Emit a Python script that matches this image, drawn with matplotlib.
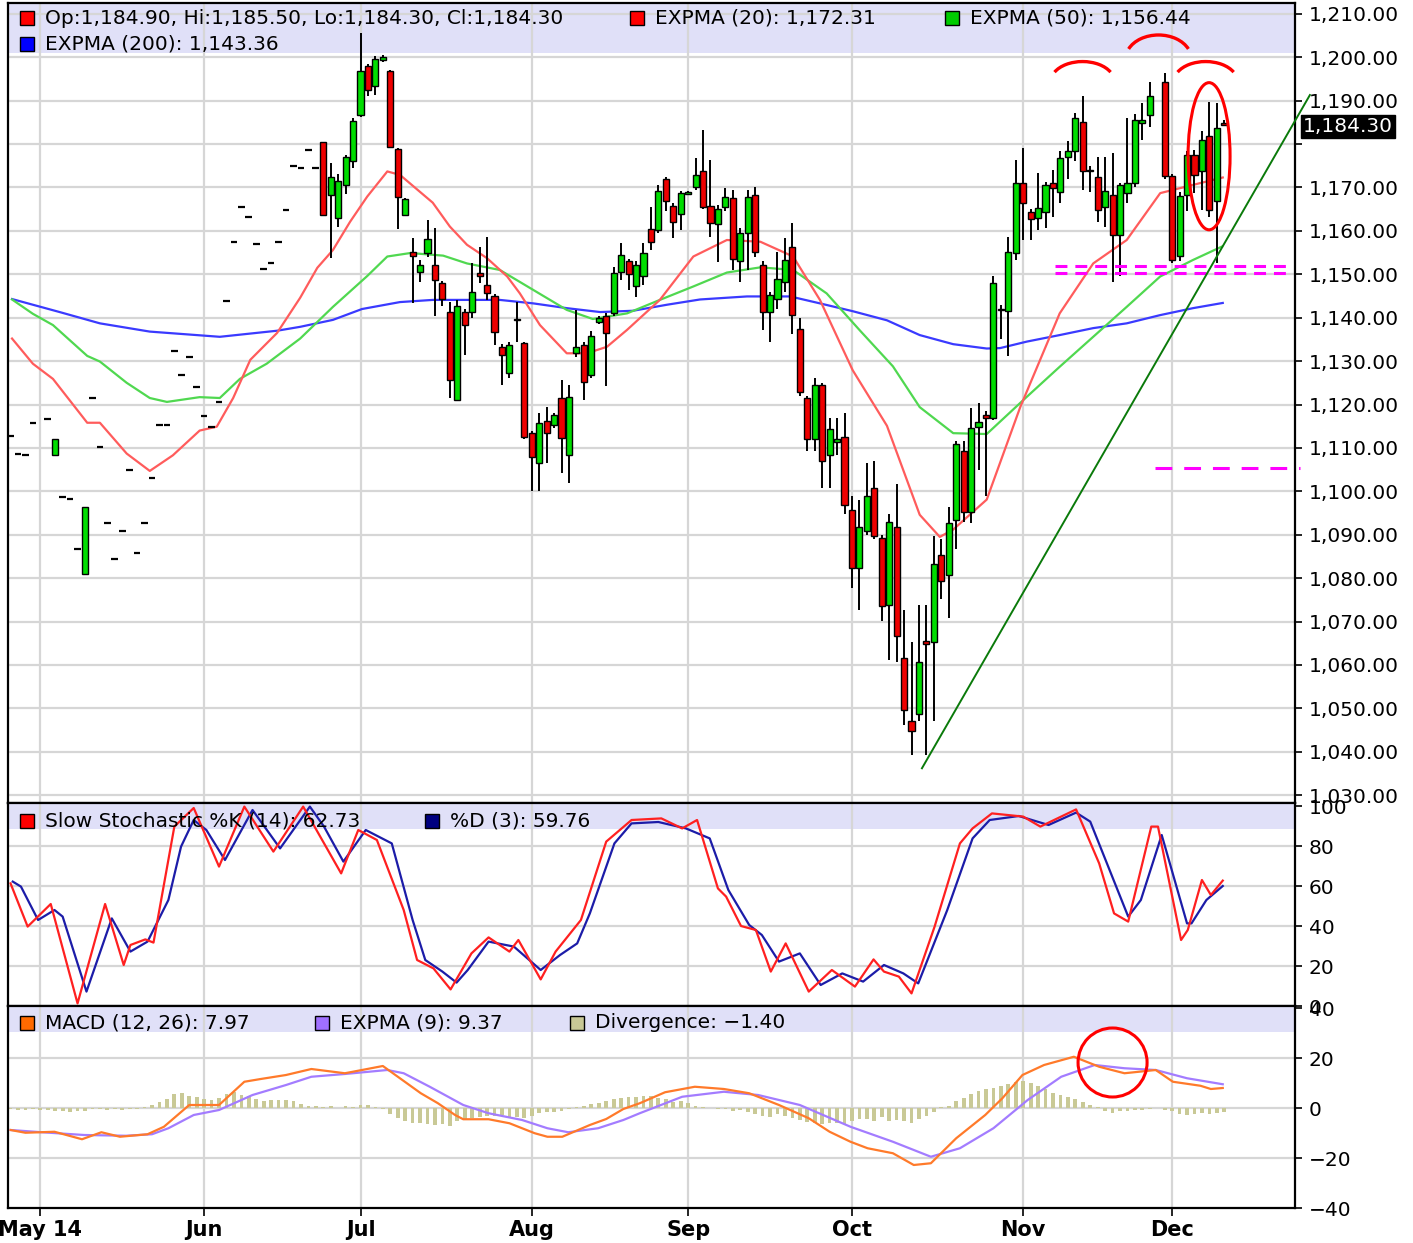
import numpy as np
import matplotlib
matplotlib.use("Agg")
import matplotlib.pyplot as plt
from matplotlib.patches import Rectangle, Ellipse, Arc

"""
Data read off the chart (weekday calendar, holidays kept as slots)
"""
base_day = '2014-05-01'
first_day = '2014-04-25'

nan = np.nan
# daily OHLC from first_day; flat values = the odd dash-only days in May/June
opens = [1112.7, 1108.7, 1108.4, 1115.8, nan, 1116.7, 1108.3, 1098.8, 1098.2, 1086.7,
         1081.0, 1121.4, 1110.1, 1092.7, 1084.3, 1090.8, 1104.8, 1085.8, 1092.7, 1103.0,
         1115.3, 1115.3, 1132.4, 1126.8, 1131.0, 1124.0, 1117.3, 1114.9, 1120.5, 1143.8,
         1157.4, 1165.6, 1163.2, 1157.0, 1151.2, 1152.6, 1157.4, 1164.7, 1174.9, 1174.4,
         1178.6, 1174.4,
         1180.4, 1168.3, 1162.9, 1170.6, 1176.0, 1186.7, 1197.9, 1193.4, 1199.4, 1196.9,
         1178.8, 1163.7, 1155.2, 1150.6, 1155.0, 1152.2, 1147.9, 1141.4, 1121.1, 1141.4,
         1141.4, 1150.2, 1147.6, 1144.9, 1133.3, 1127.2, 1139.8, 1134.1, 1113.4, 1106.5,
         1116.1, 1115.3, 1121.5, 1108.4, 1131.8, 1133.7, 1126.8, 1139.1, 1140.3, 1141.0,
         1150.6, 1153.0, 1147.2, 1149.5, 1160.4, 1160.2, 1171.9, 1165.7, 1163.9, 1168.5,
         1170.2, 1173.9, 1165.7, 1161.5, 1165.4, 1167.5, 1153.0, 1159.5, 1168.3, 1152.2,
         1141.4, 1144.4, 1148.3, 1156.4, 1137.3, 1121.5, 1112.1, 1124.5, 1108.3, 1111.3,
         1112.5, 1095.6, 1082.4, 1090.9, 1100.7, 1089.2, 1073.9, 1091.7, 1061.5, 1047.0,
         1048.7, 1065.6, 1065.4, 1085.4, 1080.7, 1093.4, 1109.2, 1095.2, 1114.9, 1117.7,
         1117.0, 1142.0, 1141.5, 1154.9, 1171.0, 1164.3, 1162.9, 1164.4, 1171.0, 1169.0,
         1177.0, 1178.3, 1185.2, 1174.1, 1172.5, 1165.6, 1168.3, 1159.1, 1168.7, 1171.0,
         1184.8, 1186.8, nan, 1194.2, 1172.7, 1154.1, 1168.3, 1177.5, 1173.7, 1181.8,
         1166.8, 1184.9]
highs = [1112.7, 1108.7, 1108.4, 1115.8, nan, 1116.7, 1112.0, 1098.8, 1098.2, 1086.7,
         1096.4, 1121.4, 1110.1, 1092.7, 1084.3, 1090.8, 1104.8, 1085.8, 1092.7, 1103.0,
         1115.3, 1115.3, 1132.4, 1126.8, 1131.0, 1124.0, 1117.3, 1114.9, 1120.5, 1143.8,
         1157.4, 1165.6, 1163.2, 1157.0, 1151.2, 1152.6, 1157.4, 1164.7, 1174.9, 1174.4,
         1178.6, 1174.4,
         1180.4, 1175.6, 1173.0, 1177.5, 1186.0, 1205.5, 1198.5, 1200.3, 1200.5, 1197.0,
         1179.0, 1167.5, 1158.3, 1153.3, 1162.5, 1160.6, 1148.5, 1143.7, 1144.1, 1142.0,
         1152.5, 1156.4, 1158.7, 1145.5, 1134.0, 1134.5, 1143.7, 1134.5, 1114.0, 1118.0,
         1119.5, 1118.0, 1125.7, 1124.5, 1141.8, 1134.5, 1137.0, 1140.5, 1141.0, 1151.7,
         1157.2, 1153.5, 1153.0, 1157.2, 1165.4, 1170.6, 1172.5, 1166.5, 1169.3, 1169.2,
         1176.9, 1183.2, 1176.4, 1166.0, 1169.8, 1169.4, 1160.6, 1169.4, 1170.1, 1153.0,
         1146.0, 1155.2, 1158.3, 1161.9, 1139.9, 1122.0, 1126.2, 1125.0, 1116.9, 1116.9,
         1118.0, 1099.0, 1098.1, 1106.6, 1107.1, 1090.0, 1094.7, 1101.6, 1072.6, 1065.4,
         1073.9, 1073.9, 1089.6, 1089.0, 1096.4, 1111.7, 1111.7, 1119.3, 1120.4, 1118.5,
         1149.5, 1143.0, 1158.6, 1176.4, 1179.1, 1165.0, 1173.3, 1171.2, 1174.0, 1178.3,
         1180.6, 1187.1, 1191.0, 1175.0, 1177.1, 1177.0, 1177.9, 1171.0, 1186.0, 1187.0,
         1189.5, 1194.2, nan, 1196.4, 1173.0, 1169.0, 1178.3, 1178.6, 1183.0, 1189.8,
         1189.4, 1185.5]
lows = [1112.7, 1108.7, 1108.4, 1115.8, nan, 1116.7, 1108.3, 1098.8, 1098.2, 1086.7,
        1081.0, 1121.4, 1110.1, 1092.7, 1084.3, 1090.8, 1104.8, 1085.8, 1092.7, 1103.0,
        1115.3, 1115.3, 1132.4, 1126.8, 1131.0, 1124.0, 1117.3, 1114.9, 1120.5, 1143.8,
        1157.4, 1165.6, 1163.2, 1157.0, 1151.2, 1152.6, 1157.4, 1164.7, 1174.9, 1174.4,
        1178.6, 1174.4,
        1163.7, 1153.7, 1161.0, 1168.5, 1174.5, 1186.3, 1191.0, 1191.3, 1199.0, 1179.0,
        1160.4, 1163.5, 1143.3, 1148.3, 1154.0, 1140.3, 1142.6, 1121.4, 1120.7, 1131.4,
        1140.0, 1148.0, 1144.0, 1133.7, 1124.5, 1126.0, 1134.5, 1112.0, 1100.0, 1100.0,
        1106.5, 1114.5, 1104.2, 1101.9, 1131.0, 1121.0, 1126.0, 1138.5, 1124.3, 1140.5,
        1148.7, 1146.4, 1144.8, 1147.6, 1155.7, 1159.5, 1164.5, 1158.3, 1160.2, 1168.3,
        1169.5, 1165.0, 1158.7, 1152.9, 1164.5, 1151.0, 1148.3, 1151.0, 1154.0, 1137.1,
        1134.5, 1142.0, 1146.0, 1136.3, 1122.0, 1109.2, 1109.2, 1100.7, 1100.7, 1108.3,
        1094.7, 1077.7, 1072.6, 1090.0, 1089.0, 1070.1, 1061.1, 1060.6, 1046.1, 1039.3,
        1047.0, 1039.3, 1047.0, 1075.2, 1070.9, 1086.7, 1093.0, 1092.6, 1104.9, 1099.0,
        1116.5, 1135.0, 1131.1, 1153.3, 1157.9, 1157.9, 1160.2, 1160.6, 1163.3, 1166.5,
        1172.0, 1176.0, 1169.5, 1169.0, 1162.1, 1161.0, 1148.3, 1149.5, 1166.5, 1170.0,
        1180.9, 1184.0, nan, 1172.0, 1152.6, 1153.0, 1164.5, 1168.7, 1164.8, 1163.3,
        1152.6, 1184.3]
closes = [1112.7, 1108.7, 1108.4, 1115.8, nan, 1116.7, 1112.0, 1098.8, 1098.2, 1086.7,
          1096.4, 1121.4, 1110.1, 1092.7, 1084.3, 1090.8, 1104.8, 1085.8, 1092.7, 1103.0,
          1115.3, 1115.3, 1132.4, 1126.8, 1131.0, 1124.0, 1117.3, 1114.9, 1120.5, 1143.8,
          1157.4, 1165.6, 1163.2, 1157.0, 1151.2, 1152.6, 1157.4, 1164.7, 1174.9, 1174.4,
          1178.6, 1174.4,
          1163.7, 1172.5, 1171.4, 1177.1, 1185.4, 1196.9, 1192.5, 1199.6, 1200.0, 1179.4,
          1167.9, 1167.3, 1154.1, 1152.2, 1158.1, 1148.7, 1144.3, 1125.7, 1142.6, 1138.3,
          1146.0, 1149.5, 1145.6, 1136.8, 1131.4, 1133.7, 1139.4, 1112.6, 1108.0, 1115.7,
          1113.4, 1117.6, 1112.2, 1121.8, 1133.3, 1125.3, 1135.8, 1139.9, 1136.4, 1150.2,
          1154.5, 1150.0, 1152.2, 1154.9, 1157.5, 1169.1, 1166.8, 1162.0, 1168.8, 1168.9,
          1172.9, 1165.6, 1161.9, 1165.0, 1167.7, 1153.5, 1159.5, 1167.9, 1155.2, 1141.4,
          1145.2, 1149.0, 1153.3, 1140.7, 1122.8, 1112.1, 1124.5, 1107.1, 1114.3, 1112.1,
          1096.8, 1082.4, 1091.7, 1099.0, 1089.6, 1073.5, 1093.0, 1066.6, 1049.6, 1044.9,
          1060.6, 1064.9, 1083.2, 1079.4, 1092.6, 1110.9, 1095.2, 1114.7, 1116.0, 1116.9,
          1148.0, 1141.7, 1155.2, 1171.0, 1166.4, 1162.8, 1165.2, 1170.6, 1169.8, 1176.7,
          1178.5, 1186.0, 1173.7, 1173.7, 1164.8, 1169.1, 1159.1, 1170.6, 1171.0, 1185.6,
          1185.6, 1191.0, nan, 1172.7, 1153.3, 1168.0, 1177.5, 1172.9, 1181.0, 1164.8,
          1183.8, 1184.3]

# MACD divergence bars, one per weekday from first_day
divergence = [-0.5, -0.8, -0.6, -0.5, -0.7, -0.8, -1.0, -1.2, -1.5, -1.3, -1.0,
              -0.5, -0.3, -0.6, -0.4, -0.8, -0.5, -0.3, 0.3, 1.2, 2.5, 3.8, 5.5, 6.2, 5.0,
              4.5, 3.6, 3.2, 4.0, 5.8, 6.3, 5.4, 4.8, 3.7, 3.0, 3.4, 3.3, 3.2, 2.8, 1.8, 0.9,
              0.7, 0.5, 0.8, 0.2, 1.0, 0.6, 1.2, 1.3, 0.4,
              -0.5, -2.5, -4.0, -5.3, -6.0, -5.8, -6.2, -6.8, -6.5, -7.0, -5.2,
              -4.2, -4.0, -3.4, -3.2, -3.0, -2.8, -3.5, -3.6, -3.8,
              -3.0, -2.0, -1.6, -1.5, -1.0, -0.4, 0.5,
              1.0, 1.5, 2.0, 2.8, 3.8, 4.2, 4.3, 4.5, 4.8, 5.0,
              4.2, 3.5, 2.5, 3.0, 2.0, 1.0, 0.5,
              0.2, -0.5, -0.3, -1.0, -0.8, -1.5, -2.5,
              -3.0, -3.5, -2.5, -3.0, -4.0, -4.6, -5.5, -6.0, -6.3, -6.0, -5.8, -6.2, -5.2, -4.5,
              -4.2, -5.0, -3.5, -5.0, -4.6, -5.3, -6.0, -4.5, -3.3, -1.5,
              0.5, 1.0, 2.8, 4.0, 5.5, 7.0, 7.5, 8.0, 9.0, 9.5, 10.5,
              11.0, 10.0, 9.0, 7.5, 6.2, 5.4, 4.5, 3.6, 2.6, 1.4, 0.3,
              -1.0, -1.8, -1.3, -1.0, -0.8, -0.6, -0.4, nan,
              -0.6, -1.2, -2.5, -2.8, -2.2, -2.0, -2.4, -2.0, -1.4]

# indicator lines: x = weekday number counted from base_day
ema20_x = [-3.8, -1.0, 1.7, 6.3, 8.0, 11.6, 14.7, 17.8, 21.4, 23.7, 25.9, 28.2, 31.8, 34.9,
           37.2, 39.3, 41.6, 43.9, 46.6, 48.3, 52.7, 55.0, 57.3, 60.0, 62.7, 64.4, 67.1,
           70.7, 73.4, 76.1, 78.8, 83.2, 87.7, 92.2, 96.7, 101.1, 104.7, 109.1, 113.7,
           118.1, 120.8, 122.6, 127.1, 131.6, 136.9, 141.4, 145.9, 150.4, 154.8, 158.8]
ema20_y = [1135.2, 1129.4, 1125.9, 1115.8, 1115.8, 1108.7, 1104.7, 1108.3, 1114.0, 1114.9,
           1121.5, 1130.3, 1136.5, 1144.6, 1151.5, 1155.6, 1162.1, 1167.9, 1173.7, 1172.9,
           1166.5, 1161.0, 1156.8, 1153.7, 1149.5, 1145.6, 1138.3, 1131.8, 1131.8, 1133.3,
           1137.2, 1144.1, 1154.1, 1157.9, 1157.5, 1154.1, 1144.1, 1127.9, 1115.1, 1094.6,
           1089.5, 1091.2, 1098.1, 1119.4, 1141.0, 1152.5, 1157.9, 1168.7, 1170.6, 1172.3]
ema50_x = [-3.8, -1.0, 1.7, 6.3, 8.0, 11.6, 14.7, 17.0, 21.4, 24.1, 26.8, 30.4, 34.9, 39.3,
           43.9, 46.6, 49.7, 54.1, 57.3, 61.7, 66.2, 70.7, 74.2, 78.8, 83.2, 87.7, 92.2,
           96.7, 101.1, 105.6, 110.1, 114.5, 118.1, 122.6, 127.1, 132.5, 136.9, 141.4,
           145.9, 150.4, 154.8, 158.7]
ema50_y = [1144.2, 1140.9, 1138.3, 1131.2, 1129.9, 1125.0, 1121.5, 1120.6, 1121.7, 1121.5,
           1125.9, 1129.4, 1135.2, 1142.5, 1149.6, 1154.1, 1154.9, 1154.3, 1152.5, 1151.0,
           1146.4, 1141.8, 1139.7, 1141.0, 1144.1, 1147.2, 1150.4, 1151.6, 1151.0, 1145.6,
           1137.0, 1128.8, 1119.4, 1113.4, 1113.2, 1121.8, 1128.7, 1135.6, 1142.5, 1149.5,
           1153.3, 1156.4]
ema200_x = [-3.8, 2.6, 8.0, 14.7, 24.1, 31.8, 34.9, 39.3, 43.2, 48.3, 52.7, 61.7, 66.2,
            70.7, 75.2, 79.6, 84.2, 88.6, 94.9, 100.7, 104.7, 109.1, 113.7, 118.1, 122.6,
            127.1, 128.9, 132.5, 136.9, 141.4, 145.9, 150.4, 154.8, 158.8]
ema200_y = [1144.3, 1141.3, 1138.7, 1136.8, 1135.6, 1137.0, 1137.9, 1139.5, 1142.0, 1143.6,
            1144.1, 1144.1, 1143.3, 1142.2, 1141.3, 1141.6, 1143.0, 1144.2, 1144.9, 1144.9,
            1143.3, 1141.5, 1139.4, 1136.0, 1133.9, 1132.9, 1133.0, 1134.5, 1136.0, 1137.6,
            1138.7, 1140.6, 1142.2, 1143.4]

stoch_k_x = [-4.0, -1.7, 1.4, 5.0, 8.7, 11.2, 12.1, 14.1, 15.2, 18.0, 20.6, 24.0, 27.4, 31.3,
             35.3, 40.4, 42.7, 45.2, 48.8, 50.6, 52.8, 55.1, 57.9, 60.2, 63.0, 64.2, 67.2,
             69.2, 72.6, 76.0, 79.4, 83.4, 86.2, 88.2, 91.0, 92.1, 94.1, 96.1, 98.1, 100.1,
             103.2, 106.3, 109.4, 111.9, 113.3, 115.3, 117.0, 120.1, 123.5, 125.2, 127.8,
             132.0, 134.3, 139.1, 142.2, 144.2, 146.1, 149.2, 150.1, 153.2, 154.1, 156.0,
             157.2, 158.8]
stoch_k_y = [61.3, 39.7, 51.0, 1.3, 51.0, 20.5, 30.5, 33.3, 31.7, 89.7, 99.0, 69.7, 99.7,
             77.2, 99.7, 66.3, 88.0, 83.0, 48.0, 23.0, 18.8, 8.3, 26.3, 34.3, 27.2, 33.0,
             13.3, 27.2, 43.0, 82.2, 93.0, 93.8, 88.8, 93.0, 58.8, 54.7, 40.0, 38.0, 17.2,
             31.3, 7.2, 18.0, 9.7, 23.3, 17.2, 14.7, 6.3, 39.7, 81.3, 88.8, 96.3, 94.7, 89.7,
             98.3, 71.3, 46.3, 42.2, 89.7, 89.7, 33.0, 38.0, 63.0, 55.5, 62.7]
stoch_d_x = [-3.7, -2.6, -0.3, 1.9, 3.0, 6.2, 9.6, 12.1, 14.4, 17.2, 18.9, 20.6, 22.3, 24.8,
             28.5, 32.2, 36.2, 38.1, 40.7, 43.7, 47.2, 50.0, 51.7, 54.0, 55.9, 57.4, 60.2,
             63.6, 67.2, 69.8, 72.1, 73.8, 77.1, 79.4, 83.0, 86.7, 89.9, 92.4, 95.2, 96.9,
             99.2, 102.0, 104.8, 107.7, 110.5, 113.3, 115.9, 117.9, 121.8, 125.2, 127.5,
             131.4, 135.4, 139.1, 141.0, 146.1, 147.8, 150.6, 154.0, 154.6, 156.6, 158.8]
stoch_d_y = [62.2, 59.7, 43.0, 48.0, 44.7, 7.2, 43.8, 27.2, 32.2, 53.0, 79.7, 93.0, 88.0,
             73.0, 98.0, 78.8, 99.7, 89.7, 72.2, 88.0, 81.3, 43.0, 23.0, 17.2, 11.7, 18.0,
             32.2, 29.7, 18.0, 25.5, 31.3, 46.3, 81.3, 91.3, 92.0, 88.8, 83.8, 58.0, 40.5,
             35.5, 22.2, 26.3, 10.5, 16.3, 12.2, 20.5, 16.3, 11.3, 48.0, 83.8, 93.0, 95.0,
             90.5, 96.7, 92.2, 44.7, 53.0, 85.5, 41.3, 41.3, 53.0, 60.0]

macd_x = [-4.0, -2.0, 1.9, 5.6, 8.2, 10.7, 14.4, 16.6, 20.0, 24.0, 27.4, 29.6, 33.0, 36.4,
          40.9, 43.2, 46.0, 51.1, 53.4, 55.7, 56.8, 60.2, 63.0, 66.4, 68.1, 70.1, 73.8, 76.0,
          78.3, 80.5, 83.9, 87.9, 91.8, 95.2, 99.2, 103.2, 106.0, 108.8, 111.1, 114.5,
          117.3, 119.6, 123.0, 126.9, 129.2, 131.9, 134.8, 138.8, 142.2, 145.6, 149.8,
          152.1, 155.8, 157.2, 158.8]
macd_y = [-8.8, -9.9, -9.5, -12.5, -9.7, -11.5, -10.5, -7.5, 1.2, 1.2, 10.5, 11.6, 13.2,
          15.6, 13.9, 15.2, 16.8, 5.9, 1.9, -2.8, -4.5, -4.5, -6.1, -10.1, -11.5, -11.5,
          -6.8, -4.4, -0.4, 1.9, 6.3, 8.5, 7.6, 5.9, 1.2, -4.1, -9.5, -13.5, -16.1, -18.1,
          -22.8, -22.1, -12.1, -2.8, 3.9, 13.2, 17.2, 20.5, 16.5, 13.9, 15.2, 10.5, 8.9,
          7.6, 8.0]
signal_x = [-4.0, 0.2, 5.9, 11.5, 15.0, 17.2, 20.6, 24.0, 28.5, 33.0, 36.4, 40.9, 46.6,
            48.8, 52.3, 56.8, 60.2, 64.7, 68.1, 70.9, 74.9, 78.3, 80.5, 86.2, 91.8, 96.4,
            102.0, 108.8, 114.5, 119.6, 123.5, 128.0, 132.6, 137.1, 141.6, 145.6, 149.8,
            154.0, 158.8]
signal_y = [-8.8, -9.7, -10.8, -11.1, -10.5, -8.1, -2.8, -0.8, 5.2, 9.2, 12.5, 13.6, 15.2,
            13.9, 8.5, 1.2, -2.1, -4.8, -8.1, -9.7, -8.1, -4.8, -2.1, 4.5, 6.5, 5.2, 1.2,
            -7.5, -13.5, -19.5, -16.1, -8.1, 3.2, 12.5, 17.2, 15.9, 15.2, 11.9, 9.5]

month_starts = ['2014-05', '2014-06', '2014-07', '2014-08', '2014-09', '2014-10',
                '2014-11', '2014-12']
month_labels = ['May 14', 'Jun', 'Jul', 'Aug', 'Sep', 'Oct', 'Nov', 'Dec']

last_price = 1184.30

"""
Helpers
"""
def day_no(d):
    return int(np.busday_count(np.datetime64(base_day), np.datetime64(d, 'D')))

W, H = 1413, 1243
fig = plt.figure(figsize=(W / 100, H / 100), dpi=100)

def px_rect(x0, y0, x1, y1):
    return [x0 / W, 1 - y1 / H, (x1 - x0) / W, (y1 - y0) / H]

grid_c = '#d6d6d6'
band_c = '#e0e0f8'
green_c = '#00dd00'
red_c = '#ee0000'
fs = 14.5

ax_p = fig.add_axes(px_rect(8, 3, 1295, 803))
ax_s = fig.add_axes(px_rect(8, 803, 1295, 1006), sharex=ax_p)
ax_m = fig.add_axes(px_rect(8, 1006, 1295, 1208), sharex=ax_p)

days = day_no(first_day) + np.arange(len(opens))
tick_pos = [day_no(np.busday_offset(m + '-01', 0, roll='forward')) for m in month_starts]

"""
Common styling
"""
for ax, band_lo in [(ax_p, 0.9375), (ax_s, 0.87), (ax_m, 0.872)]:
    ax.set_xlim(-4.34, 168.5)
    ax.add_patch(Rectangle((0, band_lo), 1, 1 - band_lo, transform=ax.transAxes,
                           facecolor=band_c, edgecolor='none', zorder=0.5))
    for t in tick_pos:
        ax.axvline(t, color=grid_c, lw=1.6, zorder=1)
    for s in ax.spines.values():
        s.set_linewidth(1.6)
        s.set_color('black')
    ax.yaxis.tick_right()
    ax.tick_params(axis='y', right=True, left=False, labelright=True, labelleft=False,
                   length=5, width=1.2, pad=5, labelsize=fs)
    ax.set_xticks(tick_pos)

"""
Price panel
"""
price_ticks = np.arange(1030, 1211, 10)
ax_p.set_ylim(1028.2, 1212.5)
ax_p.set_yticks(price_ticks)
ax_p.set_yticklabels(['' if v == 1180 else f'{v:,.2f}' for v in price_ticks])
for v in price_ticks:
    ax_p.axhline(v, color=grid_c, lw=1.6, zorder=1)
ax_p.tick_params(axis='x', length=0, labelbottom=False)

O, Hh, L, C = (np.array(a, dtype=float) for a in (opens, highs, lows, closes))
valid = ~np.isnan(O)
flat = valid & (O == C)
up = valid & (C > O)
dn = valid & (C < O)
body = up | dn
ax_p.vlines(days[body], L[body], Hh[body], color='black', lw=1.4, zorder=3)
ax_p.bar(days[up], (C - O)[up], bottom=O[up], width=0.82, color=green_c,
         edgecolor='black', lw=1.0, zorder=4)
ax_p.bar(days[dn], (O - C)[dn], bottom=C[dn], width=0.82, color=red_c,
         edgecolor='black', lw=1.0, zorder=4)
ax_p.hlines(C[flat], days[flat] - 0.45, days[flat] + 0.45, color='black', lw=1.6, zorder=4)

ax_p.plot(ema200_x, ema200_y, color='#3a3aff', lw=1.6, zorder=2.5)
ax_p.plot(ema50_x, ema50_y, color='#50d850', lw=1.6, zorder=2.5)
ax_p.plot(ema20_x, ema20_y, color='#ff5c5c', lw=1.6, zorder=2.5)

# hand drawn marks on the chart
for cx, cy, w, h in [(139.97, 1194.4, 8.53, 9.22), (150.17, 1199.6, 8.84, 11.06),
                     (156.5, 1194.4, 8.53, 9.22)]:
    ax_p.add_patch(Arc((cx, cy), w, h, theta1=30, theta2=150, color='#ff0000', lw=2.4,
                       zorder=6))
ax_p.add_patch(Ellipse((156.96, 1177.2), 5.64, 33.9, fill=False, edgecolor='#ff0000',
                       lw=2.2, zorder=6))
for yv in (1151.8, 1150.4):
    ax_p.plot([136.3, 167.8], [yv, yv], color='#ff00ff', lw=2.2, ls=(0, (3.9, 2.6)),
              zorder=6)
ax_p.plot([149.7, 169.2], [1105.4, 1105.4], color='#ff00ff', lw=2.2, ls=(0, (5.5, 3.9)),
          zorder=6, clip_on=False)
ax_p.plot([118.4, 170.5], [1036.2, 1191.3], color='#0a7a0a', lw=1.4, zorder=6,
          clip_on=False)

"""
Stochastic panel
"""
ax_s.set_ylim(0, 101.5)
ax_s.set_yticks(np.arange(0, 101, 20))
for v in range(20, 100, 20):
    ax_s.axhline(v, color=grid_c, lw=1.6, zorder=1)
ax_s.tick_params(axis='x', length=0, labelbottom=False)
ax_s.plot(stoch_d_x, stoch_d_y, color='#1c1ca8', lw=1.6, zorder=3)
ax_s.plot(stoch_k_x, stoch_k_y, color='#ff2020', lw=1.6, zorder=3)

"""
MACD panel
"""
ax_m.set_ylim(-40, 40.8)
macd_ticks = np.arange(-40, 41, 20)
ax_m.set_yticks(macd_ticks)
ax_m.set_yticklabels([str(v).replace('-', '\u2212') for v in macd_ticks])
for v in (-20, 0, 20):
    ax_m.axhline(v, color=grid_c, lw=1.6, zorder=1)
ax_m.bar(days, divergence, width=0.5, color='#c9c996', zorder=2)
ax_m.plot(signal_x, signal_y, color='#a37cff', lw=1.6, zorder=3)
ax_m.plot(macd_x, macd_y, color='#ff7a2a', lw=1.6, zorder=3)
ax_m.add_patch(Ellipse((144.0, 18.2), 9.27, 27.6, fill=False, edgecolor='#ff0000',
                       lw=2.2, zorder=6))
ax_m.set_xticklabels(month_labels, fontweight='bold', fontsize=15)
ax_m.tick_params(axis='x', length=6, width=1.2, pad=3)

"""
Legends (drawn in pixel space like the original)
"""
def legend_item(x, y, color, text):
    fig.add_artist(Rectangle(((x - 0) / W, 1 - (y + 7) / H), 14 / W, 14 / H,
                             transform=fig.transFigure, facecolor=color,
                             edgecolor='black', lw=1.0, zorder=10))
    fig.text((x + 25) / W, 1 - y / H, text, fontsize=fs, va='center', ha='left',
             zorder=10)

legend_item(20, 18, '#ff0000', 'Op:1,184.90, Hi:1,185.50, Lo:1,184.30, Cl:1,184.30')
legend_item(630, 18, '#ff0000', f'EXPMA (20): {ema20_y[-1] + 0.01:,.2f}')
legend_item(945, 18, '#00cc00', 'EXPMA (50): 1,156.44')
legend_item(20, 44, '#0000ff', 'EXPMA (200): 1,143.36')
legend_item(20, 821, '#ff0000', 'Slow Stochastic %K (14): 62.73')
legend_item(425, 821, '#000080', '%D (3): 59.76')
legend_item(20, 1023, '#ff6a00', 'MACD (12, 26): 7.97')
legend_item(315, 1023, '#a070ff', 'EXPMA (9): 9.37')
legend_item(570, 1023, '#c8c896', 'Divergence: \u22121.40')

fig.text(1303 / W, 1 - 126.5 / H, f'{last_price:,.2f}', color='white', fontsize=fs,
         va='center', ha='left', zorder=10,
         bbox=dict(facecolor='black', edgecolor='black', pad=1.5))

fig.savefig('out.png', dpi=100)
